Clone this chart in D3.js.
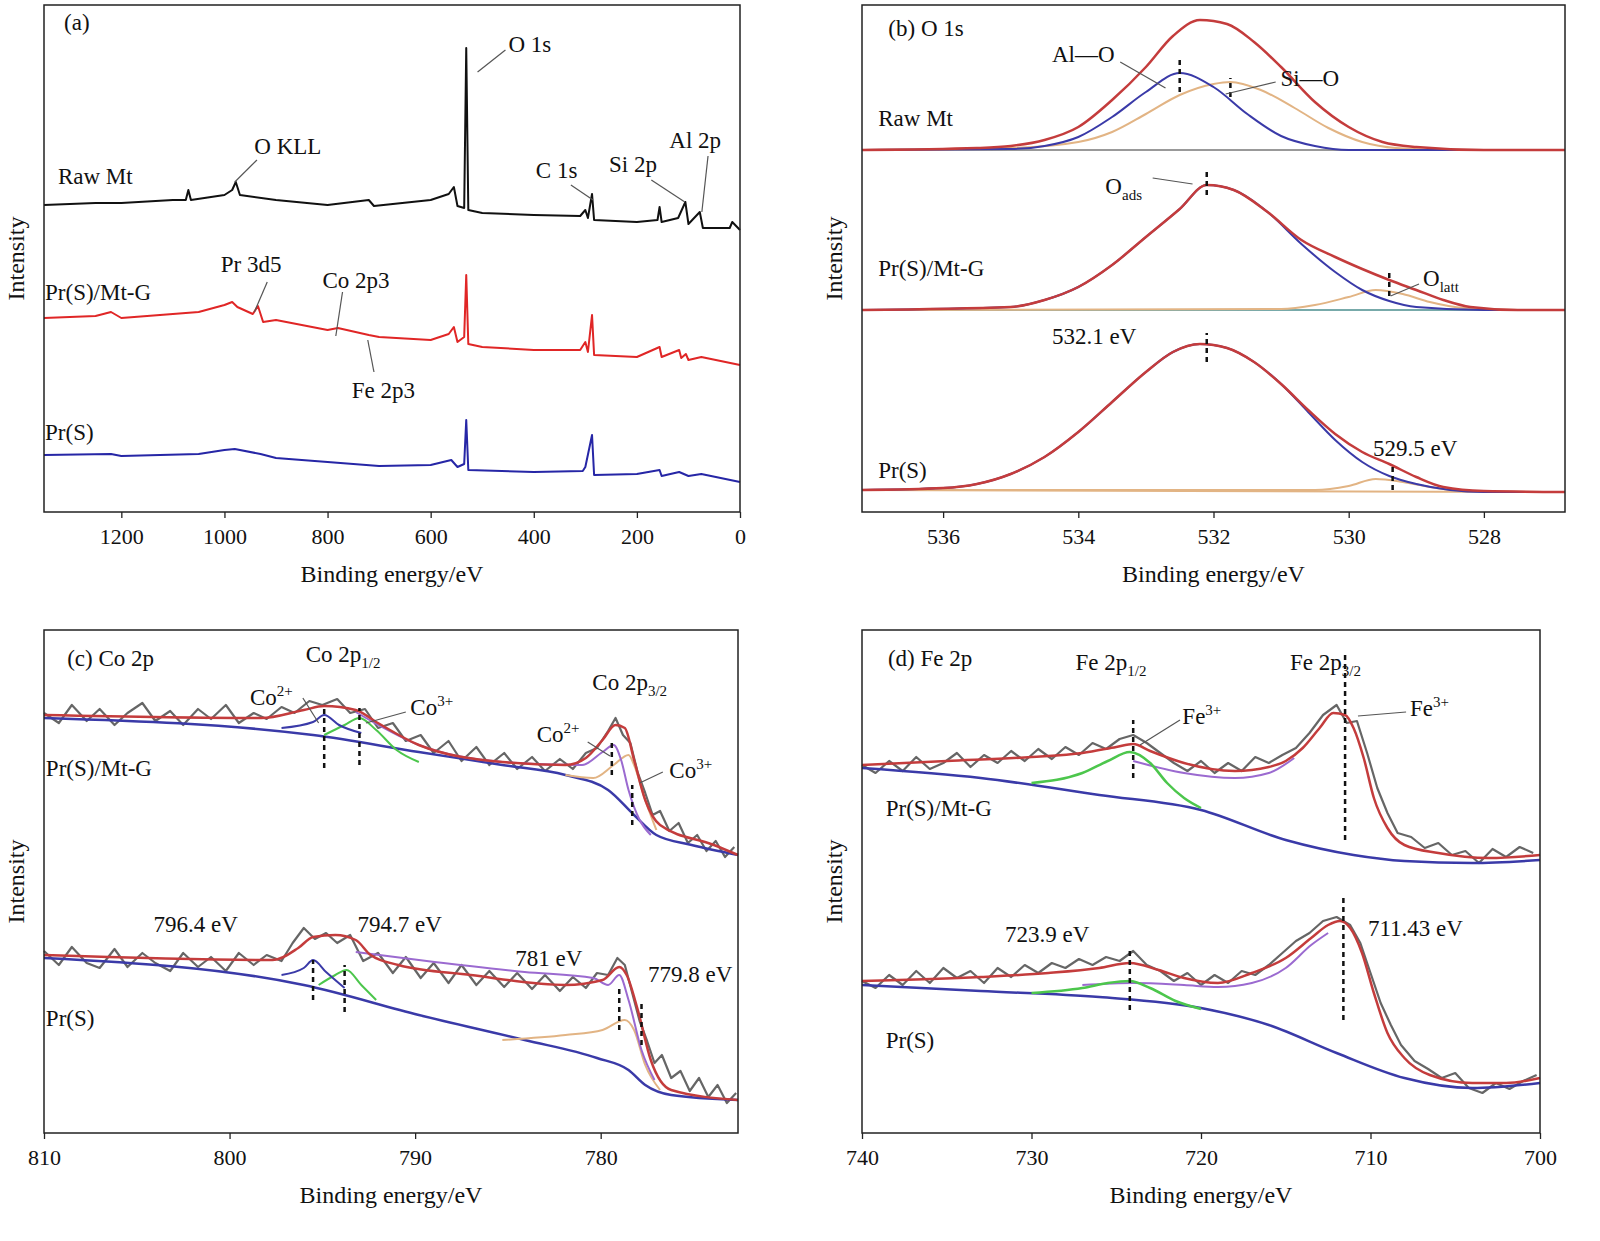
<!DOCTYPE html>
<html>
<head>
<meta charset="utf-8">
<script src="https://cdn.jsdelivr.net/npm/d3@7"></script>
<style>
  body { margin: 0; background: #fff; }
  text { font-family: "Liberation Serif", "DejaVu Serif", serif; fill: #111; }
</style>
</head>
<body>
<svg id="chart" width="1600" height="1241"></svg>
<script>
// ---------- data (x = binding energy eV, y = intensity a.u.) ----------
// (a) survey
var surveyRaw = [[1350,307],[1250,309],[1200,309],[1100,312],[1075,312],[1070,322],[1065,312],[1000,317],[985,322],[978,330],[970,317],[900,312],[800,307],[720,312],[710,306],[600,312],[565,318],[555,325],[548,306],[535,304],[531,464],[527,302],[500,299],[400,297],[310,296],[300,302],[295,294],[287,318],[283,292],[200,290],[160,292],[156,305],[152,290],[120,294],[106,310],[100,288],[78,300],[72,284],[20,284],[15,290],[0,282]];
var surveyMtG = [[1350,194],[1250,196],[1220,200],[1200,194],[1050,200],[1000,207],[985,210],[975,205],[945,198],[935,206],[925,190],[900,192],[800,182],[780,184],[720,177],[700,175],[600,172],[565,178],[555,185],[548,170],[535,175],[531,237],[527,168],[500,165],[400,162],[310,162],[300,170],[295,160],[287,197],[283,157],[200,155],[156,165],[152,155],[118,162],[114,154],[105,158],[100,152],[75,155],[0,147]];
var surveyPrS = [[1350,57],[1220,58],[1200,56],[1050,58],[1000,62],[980,63],[930,58],[900,54],[800,50],[700,46],[600,47],[560,52],[548,45],[535,48],[531,92],[527,42],[400,40],[305,41],[300,45],[287,77],[283,37],[200,38],[156,42],[152,36],[118,40],[100,36],[75,38],[0,30]];

// (b) O 1s
var oRawBase = [[537.2,362],[526.8,362]];
var oRawEnv = [[537.2,362],[535.5,364],[535,366],[534.5,372],[534,385],[533.5,412],[533,445],[532.6,476],[532.2,492],[531.8,488],[531.4,470],[531,445],[530.5,410],[530,385],[529.5,370],[529,365],[528,362],[526.8,362]];
var oRawAlO = [[537.2,362],[535,363],[534.5,366],[534,375],[533.5,395],[533,420],[532.5,439],[532,425],[531.5,398],[531,376],[530.5,366],[530,362],[526.8,362]];
var oRawSiO = [[537.2,362],[535,364],[534,370],[533.5,380],[533,398],[532.5,417],[532,428],[531.75,430],[531.3,422],[530.8,404],[530.3,384],[529.8,370],[529.3,364],[528.5,362],[526.8,362]];
var oMtGBase = [[537.2,202],[526.8,202]];
var oMtGAds = [[537.2,202],[535,205],[534.5,212],[534,225],[533.5,247],[533,275],[532.5,303],[532.1,327],[531.7,322],[531.2,300],[530.7,268],[530.2,240],[529.8,222],[529.4,211],[529,205],[528,202],[526.8,202]];
var oMtGLatt = [[537.2,202],[531,203],[530.5,207],[530,215],[529.6,222],[529.2,218],[528.8,210],[528.3,204],[527.5,202],[526.8,202]];
var oMtGEnv = [[537.2,202],[535,205],[534.5,212],[534,225],[533.5,247],[533,275],[532.5,303],[532.1,327],[531.7,322],[531.2,300],[530.7,272],[530.2,255],[529.8,243],[529.4,232],[529,222],[528.6,212],[528.2,205],[527.5,202],[526.8,202]];
var oPrSBase = [[537.2,22],[526.8,20]];
var oPrSAds = [[537.2,22],[536,24],[535.5,28],[535,38],[534.5,55],[534,80],[533.5,110],[533,140],[532.6,160],[532.2,168],[531.8,164],[531.4,150],[531,128],[530.6,100],[530.2,72],[529.8,50],[529.4,36],[529,28],[528.5,22],[528,20],[526.8,20]];
var oPrSLatt = [[537.2,22],[530.5,22],[530,26],[529.6,33],[529.2,30],[528.8,25],[528.3,21],[526.8,20]];
var oPrSEnv = [[537.2,22],[536,24],[535.5,28],[535,38],[534.5,55],[534,80],[533.5,110],[533,140],[532.6,160],[532.2,168],[531.8,164],[531.4,150],[531,128],[530.6,102],[530.2,78],[529.8,60],[529.4,48],[529,35],[528.6,25],[528,21],[526.8,20]];

// (c) Co 2p
var coMtGRaw = [[810,420],[809.2,410],[808.5,428],[807.7,412],[807,424],[806.2,408],[805.5,420],[804.7,430],[804,412],[803.2,422],[802.5,408],[801.7,424],[801,414],[800.2,428],[799.5,410],[798.7,420],[798,414],[797.2,426],[796.5,420],[795.7,432],[795,428],[794.2,434],[793.5,420],[792.7,424],[792,405],[791.2,410],[790.5,392],[789.7,398],[789,380],[788.2,392],[787.5,372],[786.7,386],[786,368],[785.2,380],[784.5,364],[783.7,376],[783,362],[782.2,374],[781.5,364],[780.8,380],[780.2,385],[779.6,402],[779.2,415],[778.8,398],[778.4,390],[778,360],[777.6,340],[777.2,318],[776.8,322],[776.3,302],[775.8,310],[775.3,290],[774.8,298],[774.3,282],[773.8,292],[773.3,276],[772.8,286]];
var coMtGBg = [[810,415],[795.5,398],[789.8,381],[785.3,368],[781.9,358],[779.6,343],[778.2,318],[777,298],[775.1,288],[772.6,278]];
var coMtGEnv = [[810,418],[798.3,415],[796,423],[794.9,427],[793.2,423],[792.1,411],[789.8,388],[785.3,371],[781.9,368],[780.8,375],[779.9,393],[779.2,408],[778.7,405],[778.2,373],[777.6,333],[776.8,308],[773.9,288],[772.6,278]];
var coMtG2p1Co2 = [[797.2,405],[795.5,411],[794.9,418],[794.1,408],[792.9,400]];
var coMtG2p1Co3 = [[794.9,398],[793.8,408],[793,415],[792.1,403],[791,383],[789.8,371]];
var coMtG2p3Co2 = [[793.2,421],[789.8,388],[785.3,371],[781,368],[779.9,381],[779.3,388],[778.9,373],[778.5,343],[777.9,313],[777.3,298]];
var coMtG2p3Co3 = [[781.9,358],[780.4,355],[779.3,368],[778.5,378],[778.2,368],[777.6,333],[777,303]];
var coPrSRaw = [[810,182],[809.2,168],[808.5,186],[807.7,170],[807,165],[806.2,184],[805.5,166],[804.7,180],[804,170],[803.2,162],[802.5,180],[801.7,166],[801,176],[800.2,162],[799.5,180],[798.7,168],[798,178],[797.2,172],[796.6,190],[796,205],[795.4,194],[794.8,200],[794.2,190],[793.5,198],[792.8,172],[792,180],[791.2,160],[790.5,176],[789.7,155],[789,170],[788.2,150],[787.5,168],[786.7,148],[786,162],[785.2,146],[784.5,160],[783.7,144],[783,158],[782.2,142],[781.5,156],[780.8,145],[780.2,160],[779.6,158],[779.1,175],[778.7,168],[778.3,140],[777.9,112],[777.5,92],[777.1,70],[776.7,78],[776.2,55],[775.7,62],[775.2,42],[774.7,55],[774.2,36],[773.7,48],[773.2,30],[772.7,40]];
var coPrSBg = [[810,175],[796,148],[789.8,118],[784.1,93],[780.2,75],[778.5,63],[777.6,48],[776.2,38],[772.6,33]];
var coPrSEnv = [[810,178],[797.7,173],[796.3,185],[795.5,196],[794.3,198],[793.2,193],[792.4,178],[790.9,168],[787,158],[781.9,148],[779.9,153],[779,166],[778.6,158],[778,123],[777.3,73],[776.2,43],[772.6,33]];
var coPrS2p1Co2 = [[797.2,158],[796,165],[795.5,173],[794.8,161],[793.8,145]];
var coPrS2p1Co3 = [[795.2,148],[794.3,158],[793.7,163],[792.9,148],[792.1,133]];
var coPrS2p3Co2 = [[793.2,181],[789.8,173],[784.1,161],[780.4,155],[779.6,148],[779,158],[778.5,133],[777.8,83],[777.1,53]];
var coPrS2p3Co3 = [[785.3,93],[781.9,98],[779.9,103],[778.7,113],[778.2,103],[777.6,68],[776.8,43]];

// (d) Fe 2p
var feMtGRaw = [[740,368],[739.2,360],[738.4,372],[737.6,362],[736.8,376],[736,364],[735.2,370],[734.4,380],[733.6,366],[732.8,378],[732,370],[731.2,382],[730.4,372],[729.6,384],[728.8,374],[728,386],[727.2,378],[726.4,390],[725.6,384],[724.8,394],[724,398],[723.2,390],[722.4,380],[721.6,370],[720.8,362],[720,372],[719.2,360],[718.4,370],[717.6,362],[716.8,376],[716,370],[715.2,378],[714.4,385],[713.6,400],[712.8,418],[712,428],[711.4,410],[710.8,412],[710.2,380],[709.6,345],[709,320],[708.4,300],[707.6,296],[706.8,285],[706,290],[705.2,278],[704.4,282],[703.6,270],[702.8,284],[702,276],[701.2,286],[700.4,280]];
var feMtGBg = [[740,365],[733,355],[726,338],[720,323],[715,293],[711,278],[708,272],[704,270],[700,273]];
var feMtGEnv = [[740,368],[735,372],[730,376],[727,380],[725,386],[724,389],[723,382],[721,370],[718,362],[716,366],[715,372],[714,385],[713,405],[712.2,420],[711.5,418],[711,405],[710.4,375],[709.8,335],[709,305],[708,288],[706,280],[703,275],[700,278]];
var feMtGFe3 = [[730,350],[727,360],[725.5,372],[724.2,381],[723,370],[722,350],[721,335],[720,325]];
var feMtGSat = [[724,372],[721,360],[718,355],[716,360],[714.5,375]];
var fePrSRaw = [[740,152],[739.2,145],[738.4,158],[737.6,148],[736.8,162],[736,150],[735.2,165],[734.4,155],[733.6,162],[732.8,150],[732,165],[731.2,156],[730.4,168],[729.6,160],[728.8,170],[728,165],[727.2,174],[726.4,168],[725.6,176],[724.8,172],[724,182],[723.2,168],[722.4,162],[721.6,152],[720.8,160],[720,148],[719.2,158],[718.4,150],[717.6,162],[716.8,158],[716,168],[715.2,180],[714.4,192],[713.6,200],[712.8,212],[712,216],[711.2,208],[710.6,190],[710,160],[709.4,130],[708.8,108],[708.2,88],[707.4,72],[706.6,64],[705.8,55],[705,60],[704.2,45],[703.4,40],[702.6,50],[701.8,44],[701,52],[700.2,58]];
var fePrSBg = [[740,148],[733,142],[726,136],[720,125],[716,108],[712,80],[708,55],[704,45],[700,50]];
var fePrSEnv = [[740,152],[733,156],[729,160],[726,165],[724.2,170],[722.5,163],[721,155],[719,150],[717,160],[715,175],[713.5,195],[712.5,208],[711.8,212],[711.2,205],[710.5,180],[709.8,140],[709,100],[708,75],[706.5,58],[704,50],[702,50],[700,55]];
var fePrSFe3 = [[730,140],[727,145],[725.5,150],[724.2,152],[723,145],[721.5,132],[720,124]];
var fePrSSat = [[727,148],[724,150],[721,148],[719,146],[717,150],[715,165],[713.5,188],[712.5,200]];

// ticks
var ticksA = [1200,1000,800,600,400,200,0];
var ticksB = [536,534,532,530,528];
var ticksC = [810,800,790,780];
var ticksD = [740,730,720,710,700];

// dashed markers [x, y1, y2]
var dashB = [[532.5,420,452],[531.75,415,434],[532.1,317,344],[529.4,216,242],[532.1,150,179],[529.35,22,47]];
var dashC = [[794.9,365,425],[793,368,425],[779.4,358,393],[778.3,308,348],[795.5,133,173],[793.8,121,168],[779,103,148],[777.8,88,133]];
var dashD = [[724,355,413],[711.5,293,478],[724.2,123,183],[711.6,113,238]];

// labels [x, y, parts] ; leaders [x1,y1,x2,y2]
var labA = [[1311,482,["(a)"]],[449,460,["O 1s"]],[942,358,["O KLL"]],[396,334,["C 1s"]],[254,340,["Si 2p"]],[137,364,["Al 2p"]],[1323,328,["Raw Mt"]],[1348,212,["Pr(S)/Mt-G"]],[1007,240,["Pr 3d5"]],[810,224,["Co 2p3"]],[753,114,["Fe 2p3"]],[1348,72,["Pr(S)"]]];
var leadA = [[455,462,509,440],[937,352,980,330],[328,327,285,312],[172,332,107,310],[62,356,74,300],[917,230,942,200],[771,220,784,176],[710,140,722,172]];
var labB = [[536.81,476,["(b) O 1s"]],[536.96,386,["Raw Mt"]],[534.39,450,["Al—O"]],[531.01,426,["Si—O"]],[533.6,318,["O",["ads","sub"]]],[536.96,236,["Pr(S)/Mt-G"]],[528.9,226,["O",["latt","sub"]]],[534.39,168,["532.1 eV"]],[529.64,56,["529.5 eV"]],[536.96,34,["Pr(S)"]]];
var leadB = [[533.38,450,532.71,424],[531.08,430,531.82,418],[532.9,334,532.31,328],[528.96,228,529.38,216]];
var labC = [[808.75,467,["(c) Co 2p"]],[795.9,471,["Co 2p",["1/2","sub"]]],[780.45,443,["Co 2p",["3/2","sub"]]],[798.9,428,["Co",["2+","sup"]]],[790.26,418,["Co",["3+","sup"]]],[783.45,391,["Co",["2+","sup"]]],[776.3,355,["Co",["3+","sup"]]],[809.9,357,["Pr(S)/Mt-G"]],[804.1,201,["796.4 eV"]],[793.1,201,["794.7 eV"]],[784.6,167,["781 eV"]],[777.45,151,["779.8 eV"]],[809.9,107,["Pr(S)"]]];
var leadC = [[796.05,435,795.2,410],[790.5,421,792.65,410],[780.7,391,779.5,377],[776.65,361,777.9,350]];
var labD = [[738.47,467,["(d) Fe 2p"]],[727.4,463,["Fe 2p",["1/2","sub"]]],[714.75,463,["Fe 2p",["3/2","sub"]]],[721.1,409,["Fe",["3+","sup"]]],[707.67,417,["Fe",["3+","sup"]]],[738.6,317,["Pr(S)/Mt-G"]],[731.56,191,["723.9 eV"]],[710.15,197,["711.43 eV"]],[738.6,85,["Pr(S)"]]];
var leadD = [[721.24,413,723.6,388],[707.9,421,710.74,417]];

// ---------- drawing ----------
var RED = "#c43c3c", BLUE = "#3a3aa8", GREEN = "#4cc64c", PURPLE = "#9b6ad0", TAN = "#e2b484", GREY = "#666";
var svg = d3.select("#chart");

function panel(p) {
  var x = d3.scaleLinear().domain(p.xd).range([p.l, p.r]);
  var y = d3.scaleLinear().domain([0, p.b - p.t]).range([p.b, p.t]);
  var g = svg.append("g");
  p.curves.forEach(function (c) {
    var line = d3.line().x(d => x(d[0])).y(d => y(d[1]))
      .curve(c.smooth ? d3.curveMonotoneX : d3.curveLinear);
    g.append("path").attr("d", line(c.data)).attr("fill", "none")
      .attr("stroke", c.color).attr("stroke-width", c.w || 2)
      .attr("stroke-linejoin", "round");
  });
  g.selectAll(".dash").data(p.dash || []).enter().append("line")
    .attr("x1", d => x(d[0])).attr("x2", d => x(d[0]))
    .attr("y1", d => y(d[1])).attr("y2", d => y(d[2]))
    .attr("stroke", "#111").attr("stroke-width", 2.5).attr("stroke-dasharray", "5,4");
  g.selectAll(".lead").data(p.lead || []).enter().append("line")
    .attr("x1", d => x(d[0])).attr("y1", d => y(d[1]))
    .attr("x2", d => x(d[2])).attr("y2", d => y(d[3]))
    .attr("stroke", "#555").attr("stroke-width", 1.2);
  p.labels.forEach(function (L) {
    var t = g.append("text").attr("x", x(L[0])).attr("y", y(L[1])).attr("font-size", 23);
    L[2].forEach(function (part) {
      if (typeof part === "string") t.append("tspan").text(part);
      else t.append("tspan").text(part[0]).attr("font-size", 15)
        .attr("dy", part[1] === "sub" ? 6 : -9);
    });
  });
  g.append("rect").attr("x", p.l).attr("y", p.t).attr("width", p.r - p.l).attr("height", p.b - p.t)
    .attr("fill", "none").attr("stroke", "#222").attr("stroke-width", 1.5);
  var ax = g.append("g").attr("transform", "translate(0," + p.b + ")")
    .call(d3.axisBottom(x).tickValues(p.ticks).tickSize(6).tickSizeOuter(0).tickFormat(d3.format("d")));
  ax.select(".domain").remove();
  ax.selectAll("line").attr("stroke", "#222").attr("stroke-width", 1.3);
  ax.selectAll("text").attr("font-size", 22).attr("dy", "1.05em")
    .style("font-family", "'Liberation Serif', serif").attr("fill", "#111");
  g.append("text").attr("x", (p.l + p.r) / 2).attr("y", p.b + 70).attr("text-anchor", "middle")
    .attr("font-size", 24).text("Binding energy/eV");
  g.append("text").attr("transform", "translate(" + (p.l - 20) + "," + ((p.t + p.b) / 2) + ") rotate(-90)")
    .attr("text-anchor", "middle").attr("font-size", 24).text("Intensity");
}

panel({ l: 44, r: 740, t: 5, b: 512, xd: [1350, 0], ticks: ticksA, labels: labA, lead: leadA,
  curves: [
    { data: surveyRaw, color: "#111", w: 2 },
    { data: surveyMtG, color: "#e02626", w: 2 },
    { data: surveyPrS, color: "#2626a6", w: 2 }
  ] });

panel({ l: 862, r: 1565, t: 5, b: 512, xd: [537.2, 526.8], ticks: ticksB, labels: labB, lead: leadB, dash: dashB,
  curves: [
    { data: oRawBase, color: "#999", w: 2 },
    { data: oRawSiO, color: TAN, smooth: 1 },
    { data: oRawAlO, color: BLUE, smooth: 1 },
    { data: oRawEnv, color: RED, w: 2.5, smooth: 1 },
    { data: oMtGBase, color: "#7aa", w: 2 },
    { data: oMtGLatt, color: TAN, smooth: 1 },
    { data: oMtGAds, color: BLUE, smooth: 1 },
    { data: oMtGEnv, color: RED, w: 2.5, smooth: 1 },
    { data: oPrSBase, color: TAN, w: 2 },
    { data: oPrSLatt, color: TAN, smooth: 1 },
    { data: oPrSAds, color: BLUE, smooth: 1 },
    { data: oPrSEnv, color: RED, w: 2.5, smooth: 1 }
  ] });

panel({ l: 44, r: 738, t: 630, b: 1133, xd: [810, 772.6], ticks: ticksC, labels: labC, lead: leadC, dash: dashC,
  curves: [
    { data: coMtGRaw, color: GREY, w: 2.2 },
    { data: coMtGBg, color: BLUE, w: 2.5, smooth: 1 },
    { data: coMtG2p3Co3, color: TAN, smooth: 1 },
    { data: coMtG2p3Co2, color: PURPLE, smooth: 1 },
    { data: coMtG2p1Co3, color: GREEN, smooth: 1 },
    { data: coMtG2p1Co2, color: BLUE, smooth: 1 },
    { data: coMtGEnv, color: RED, w: 2.5, smooth: 1 },
    { data: coPrSRaw, color: GREY, w: 2.2 },
    { data: coPrSBg, color: BLUE, w: 2.5, smooth: 1 },
    { data: coPrS2p3Co3, color: TAN, smooth: 1 },
    { data: coPrS2p3Co2, color: PURPLE, smooth: 1 },
    { data: coPrS2p1Co3, color: GREEN, smooth: 1 },
    { data: coPrS2p1Co2, color: BLUE, smooth: 1 },
    { data: coPrSEnv, color: RED, w: 2.5, smooth: 1 }
  ] });

panel({ l: 862, r: 1540, t: 630, b: 1133, xd: [740, 700], ticks: ticksD, labels: labD, lead: leadD, dash: dashD,
  curves: [
    { data: feMtGRaw, color: GREY, w: 2.2 },
    { data: feMtGBg, color: BLUE, w: 2.5, smooth: 1 },
    { data: feMtGSat, color: PURPLE, smooth: 1 },
    { data: feMtGFe3, color: GREEN, w: 2.5, smooth: 1 },
    { data: feMtGEnv, color: RED, w: 2.5, smooth: 1 },
    { data: fePrSRaw, color: GREY, w: 2.2 },
    { data: fePrSBg, color: BLUE, w: 2.5, smooth: 1 },
    { data: fePrSSat, color: PURPLE, smooth: 1 },
    { data: fePrSFe3, color: GREEN, w: 2.5, smooth: 1 },
    { data: fePrSEnv, color: RED, w: 2.5, smooth: 1 }
  ] });
</script>
</body>
</html>
